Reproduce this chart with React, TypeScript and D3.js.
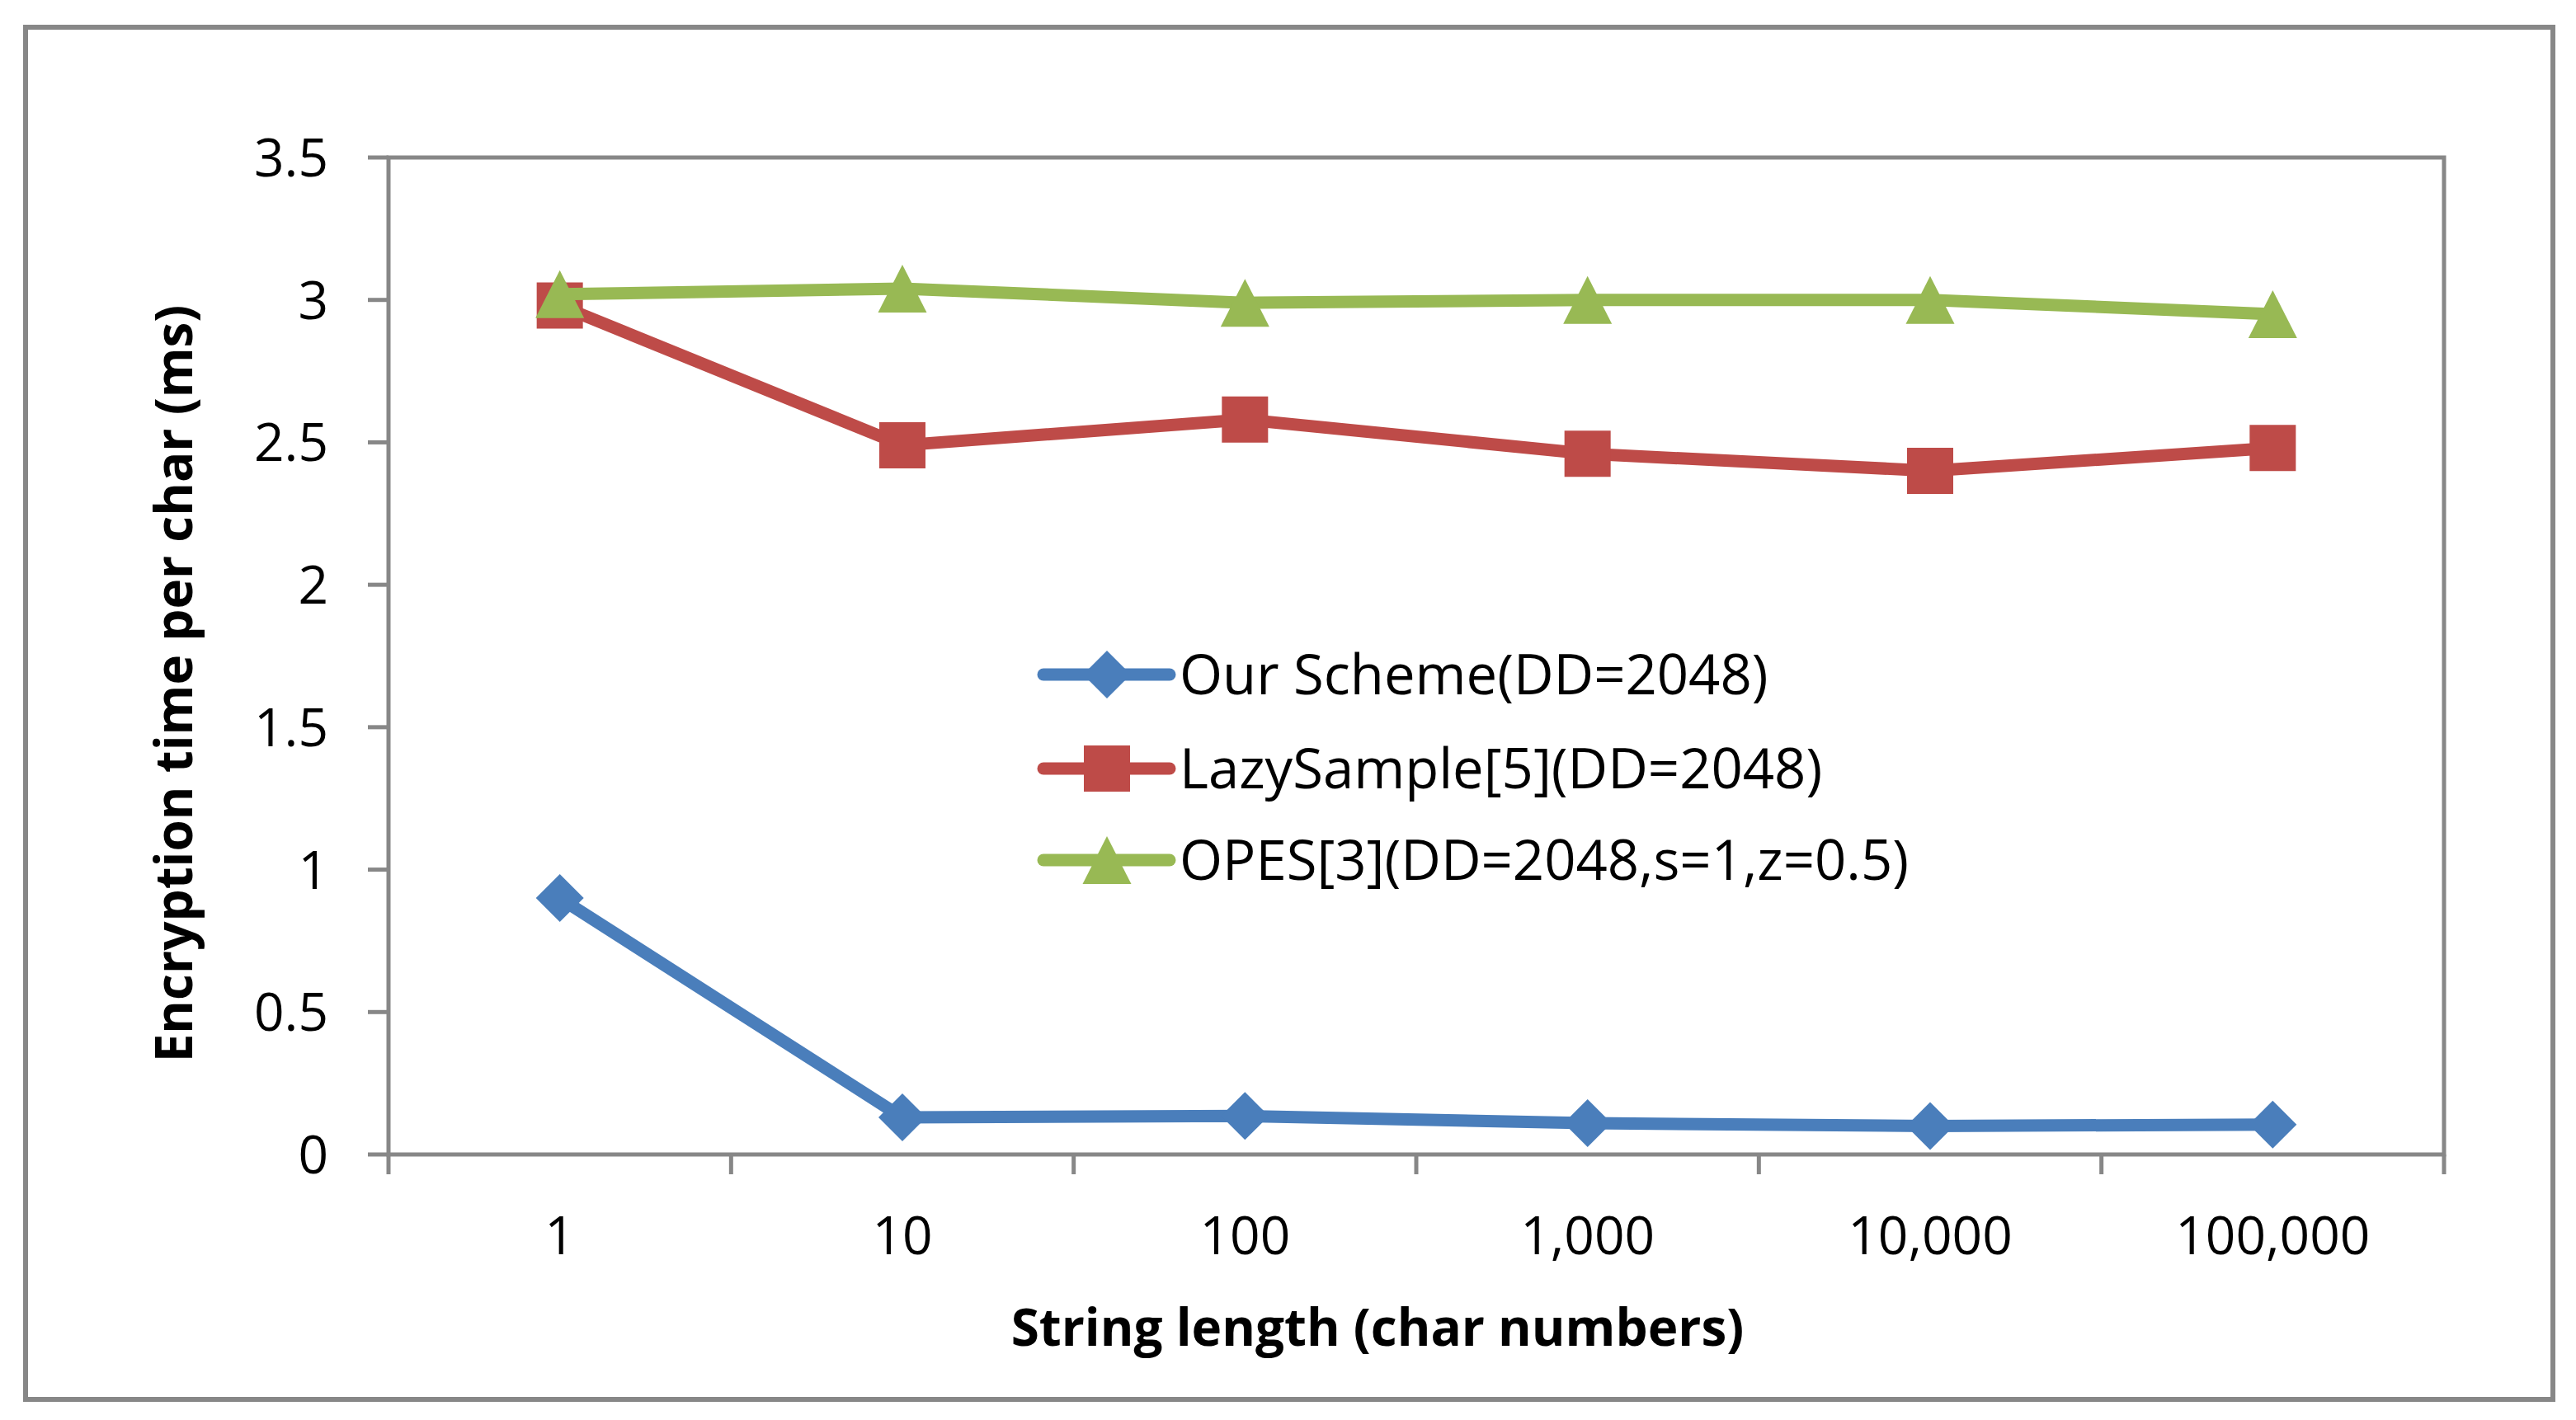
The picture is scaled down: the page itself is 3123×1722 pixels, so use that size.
import * as d3 from "d3";

const categories = ["1", "10", "100", "1,000", "10,000", "100,000"];
const ourScheme = [0.9, 0.13, 0.135, 0.11, 0.1, 0.105];
const lazySample = [2.98, 2.49, 2.58, 2.46, 2.4, 2.48];
const opes = [3.02, 3.04, 2.99, 3.0, 3.0, 2.95];
const yTicks = [0, 0.5, 1, 1.5, 2, 2.5, 3, 3.5];
const seriesNames = ["Our Scheme(DD=2048)", "LazySample[5](DD=2048)", "OPES[3](DD=2048,s=1,z=0.5)"];

const width = 3123;
const height = 1722;
const plot = { left: 471, right: 2963, top: 191, bottom: 1400 };
const frameColor = "#878787";
const font = "'Open Sans', 'Noto Sans', sans-serif";

type Marker = "diamond" | "square" | "triangle";

const series: { name: string; values: number[]; color: string; marker: Marker }[] = [
  { name: seriesNames[0], values: ourScheme, color: "#4a7ebb", marker: "diamond" },
  { name: seriesNames[1], values: lazySample, color: "#be4b48", marker: "square" },
  { name: seriesNames[2], values: opes, color: "#98b954", marker: "triangle" },
];

const x = d3.scaleBand<string>().domain(categories).range([plot.left, plot.right]);
const y = d3.scaleLinear().domain([0, 3.5]).range([plot.bottom, plot.top]);
const cx = (c: string) => (x(c) ?? 0) + x.bandwidth() / 2;

// excel-style markers, centred in their bounding box
function markerPath(kind: Marker, px: number, py: number) {
  if (kind === "diamond") {
    const r = 29;
    return `M${px},${py - r}L${px + r},${py}L${px},${py + r}L${px - r},${py}Z`;
  }
  if (kind === "square") {
    const h = 28;
    return `M${px - h},${py - h}h${2 * h}v${2 * h}h${-2 * h}Z`;
  }
  const w = 29.5;
  const h = 29;
  return `M${px},${py - h}L${px + w},${py + h}L${px - w},${py + h}Z`;
}

const legendRows = [818, 932, 1043];
const legendLine = { x1: 1265, x2: 1418, marker: 1342, text: 1430 };

export default function App() {
  const line = d3
    .line<number>()
    .x((_, i) => cx(categories[i]))
    .y((v) => y(v));

  return (
    <svg
      width={width}
      height={height}
      viewBox={`0 0 ${width} ${height}`}
      style={{ position: "fixed", left: 0, top: 0, background: "#fff" }}
      fontFamily={font}
    >
      <rect x={0} y={0} width={width} height={height} fill="#fff" />
      <rect x={31} y={33} width={3064} height={1664} fill="none" stroke={frameColor} strokeWidth={6} />

      <rect
        x={plot.left}
        y={plot.top}
        width={plot.right - plot.left}
        height={plot.bottom - plot.top}
        fill="none"
        stroke={frameColor}
        strokeWidth={5}
      />

      {yTicks.map((t) => (
        <g key={t}>
          <line x1={plot.left - 25} x2={plot.left} y1={y(t)} y2={y(t)} stroke={frameColor} strokeWidth={5} />
          <text x={398} y={y(t)} dy="0.36em" textAnchor="end" fontSize={64} fill="#000">
            {t}
          </text>
        </g>
      ))}

      {[...categories.map((c) => x(c) ?? 0), plot.right].map((bx, i) => (
        <line key={i} x1={bx} x2={bx} y1={plot.bottom} y2={plot.bottom + 24} stroke={frameColor} strokeWidth={5} />
      ))}
      {categories.map((c) => (
        <text key={c} x={cx(c)} y={1521} textAnchor="middle" fontSize={64} fill="#000">
          {c}
        </text>
      ))}

      {series.map((s) => (
        <g key={s.name}>
          <path d={line(s.values) ?? ""} fill="none" stroke={s.color} strokeWidth={15} strokeLinejoin="round" />
          {s.values.map((v, i) => (
            <path key={i} d={markerPath(s.marker, cx(categories[i]), y(v))} fill={s.color} />
          ))}
        </g>
      ))}

      {series.map((s, i) => (
        <g key={s.name}>
          <line
            x1={legendLine.x1}
            x2={legendLine.x2}
            y1={legendRows[i]}
            y2={legendRows[i]}
            stroke={s.color}
            strokeWidth={15}
            strokeLinecap="round"
          />
          <path d={markerPath(s.marker, legendLine.marker, legendRows[i])} fill={s.color} />
          <text x={legendLine.text} y={legendRows[i]} dy="0.36em" fontSize={67} fill="#000">
            {s.name}
          </text>
        </g>
      ))}

      <text x={1670} y={1632} textAnchor="middle" fontSize={62} fontWeight="bold" fill="#000">
        String length (char numbers)
      </text>
      <text
        transform={`translate(233, 829) rotate(-90)`}
        textAnchor="middle"
        fontSize={62}
        fontWeight="bold"
        fill="#000"
      >
        Encryption time per char (ms)
      </text>
    </svg>
  );
}
